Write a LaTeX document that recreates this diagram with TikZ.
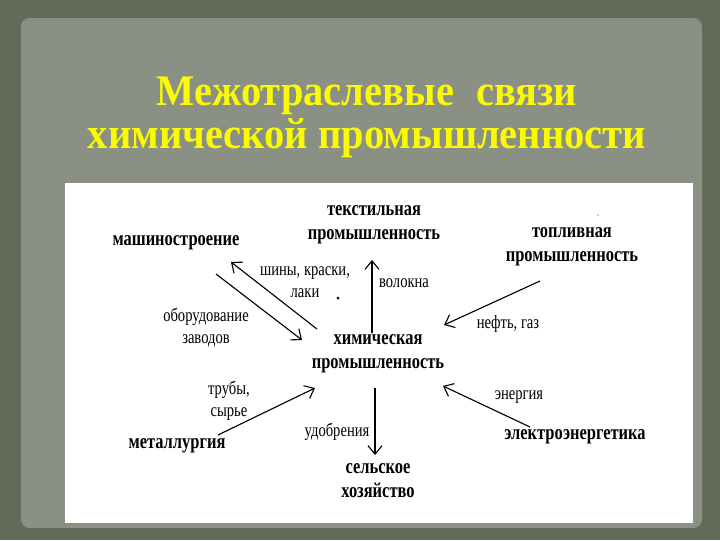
\documentclass[tikz,border=0pt]{standalone}
\usepackage{fontspec}
\setmainfont{Liberation Serif}
\newfontfamily\titlefont[FakeStretch=0.93]{Liberation Serif}
\newfontfamily\diagfont[FakeStretch=0.78]{Liberation Serif}
\usetikzlibrary{arrows.meta}
\definecolor{outerbg}{RGB}{98,106,88}
\definecolor{panelbg}{RGB}{138,144,132}
\definecolor{titleyellow}{RGB}{250,250,0}
\tikzset{
    heading/.style={font=\titlefont\bfseries\fontsize{31}{34}\selectfont,text=titleyellow,anchor=base,inner sep=0pt},
    branch/.style={font=\diagfont\bfseries\fontsize{15}{17}\selectfont,align=center,inner sep=1pt},
    flowlabel/.style={font=\diagfont\fontsize{13.3}{15.5}\selectfont,align=center,inner sep=1pt},
    flow/.style={-{Straight Barb[length=6pt,width=10pt]},line width=0.8pt},
}
\begin{document}
\begin{tikzpicture}[x=0.025cm,y=-0.025cm]
                \useasboundingbox (0,0) rectangle (720,540);
                \fill[outerbg] (0,0) rectangle (720,540);
                \fill[panelbg,rounded corners=6pt] (21,18) rectangle (702,528);
                \fill[white] (65,183) rectangle (693,523);
                \node[heading] (titletop) at (367,105) {Межотраслевые\enspace связи};
                \node[heading] (titlebottom) at (367,148) {химической промышленности};
                \node[branch] (textile) at (374,225) {текстильная\\промышленность};
                \node[branch] (mash) at (176,243) {машиностроение};
                \node[branch] (fuel) at (572,247) {топливная\\промышленность};
                \node[branch] (chem) at (378,354) {химическая\\промышленность};
                \node[branch] (metal) at (177,446) {металлургия};
                \node[branch] (agri) at (378,481) {сельское\\хозяйство};
                \node[branch] (power) at (575,437) {электроэнергетика};
                \node[flowlabel] (tyres) at (305,282) {шины, краски,\\лаки};
                \node[flowlabel] (fibre) at (404,283) {волокна};
                \node[flowlabel] (equip) at (206,328) {оборудование\\заводов};
                \node[flowlabel] (oilgas) at (508,324) {нефть, газ};
                \node[flowlabel] (pipes) at (229,401) {трубы,\\сырье};
                \node[flowlabel] (fert) at (337,432) {удобрения};
                \node[flowlabel] (energy) at (519,397) {энергия};
                \draw[flow] ([shift={(-61,-25)}]chem.center) -- ([shift={(55,19)}]mash.center);
                \draw[flow] ([shift={(40,31)}]mash.center) -- ([shift={(-76,-14)}]chem.center);
                \draw[flow] ([shift={(-6,-21)}]chem.center) -- ([shift={(-2,35)}]textile.center);
                \draw[flow] ([shift={(-32,34)}]fuel.center) -- ([shift={(66,-29)}]chem.center);
                \draw[flow] ([shift={(-45,-10)}]power.center) -- ([shift={(65,32)}]chem.center);
                \draw[flow] ([shift={(41,-11)}]metal.center) -- ([shift={(-63,34)}]chem.center);
                \draw[flow] ([shift={(-3,34)}]chem.center) -- ([shift={(-3,-26)}]agri.center);
                \fill (338,298) circle (1.5);
                \fill[black!40] (598,215) circle (0.8);
            \end{tikzpicture}
\end{document}
